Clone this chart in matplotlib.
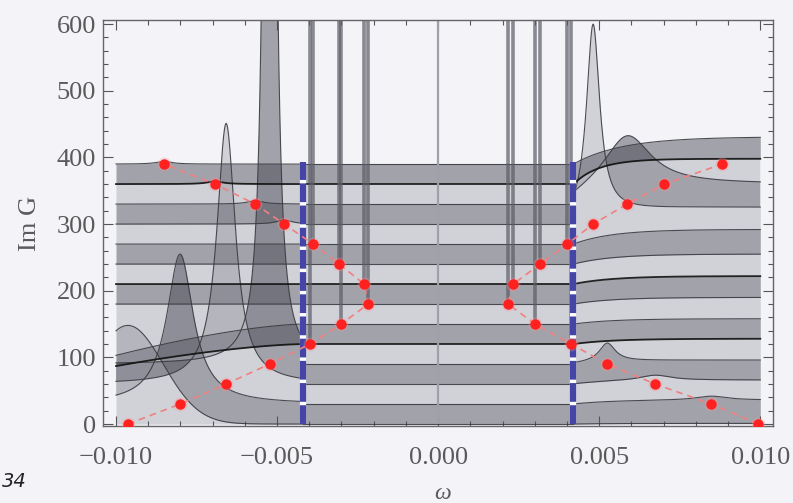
import numpy as np
import matplotlib
matplotlib.use("Agg")
import matplotlib.pyplot as plt
from matplotlib.ticker import MultipleLocator, FuncFormatter

# Vertical offsets of the 14 stacked Im G curves
offsets = [0, 30, 60, 90, 120, 150, 180, 210, 240, 270, 300, 330, 360, 390]

# Resonance frequencies (red markers) on the negative and positive branch
omega_neg = [-0.00963, -0.00801, -0.00658, -0.00523, -0.00398, -0.00301, -0.00217,
             -0.00230, -0.00307, -0.00388, -0.00478, -0.00568, -0.00693, -0.00851]
omega_pos = [0.00994, 0.00848, 0.00674, 0.00525, 0.00413, 0.00301, 0.00217,
             0.00233, 0.00317, 0.00401, 0.00481, 0.00587, 0.00702, 0.00882]

# Gap edges (blue dashed lines) and their height
gap_edge = 0.0042
gap_top = 393

# Peak heights / half widths outside the gap, negative side
neg_height = [148, 225, 391, 5000, 0, 0, 0, 0, 0, 0, 6, 5, 4, 4]
neg_width = [0.0011, 0.0005, 0.00035, 0.00009, 1, 1, 1, 1, 1, 1,
             0.0003, 0.0003, 0.0003, 0.0003]
# Downward drift of the curves towards the left frame edge
neg_dip = [0, 0, 0, 0, 33, 47, 0, 0, 0, 0, 0, 0, 0, 0]

# Peak heights / half widths outside the gap, positive side
pos_height = [0, 6, 8, 28, 0, 0, 0, 0, 0, 0, 290, 80, 0, 0]
pos_width = [1, 0.0006, 0.0006, 0.0003, 1, 1, 1, 1, 1, 1, 0.00025, 0.0009, 1, 1]
# Smooth upward drift towards the right frame edge
pos_shift = [1, 6, 6, 6, 8, 8, 10, 12, 15, 22, 25, 30, 38, 41]
pos_rise = [0.0012] * 12 + [0.0008, 0.0015]

x_ticks = [-0.010, -0.005, 0.000, 0.005, 0.010]
y_ticks = [0, 100, 200, 300, 400, 500, 600]

n = len(offsets)


def lorentz(w, c, h, g):
    return h / (1.0 + ((w - c) / g) ** 2)


def curves_neg(w):
    out = []
    frac = np.clip((-w - gap_edge) / (0.010 - gap_edge), 0, None)
    for k in range(n):
        if k == 0:
            peak = neg_height[k] * np.exp(-0.5 * ((w - omega_neg[k]) / neg_width[k]) ** 2)
        else:
            peak = lorentz(w, omega_neg[k], neg_height[k], neg_width[k])
        out.append(offsets[k] + peak - neg_dip[k] * frac ** 1.5)
    return out


def curves_pos(w):
    out = []
    for k in range(n):
        rise = pos_shift[k] * (1 - np.exp(-(w - gap_edge) / pos_rise[k]))
        peak = lorentz(w, omega_pos[k], pos_height[k], pos_width[k])
        out.append(offsets[k] + rise + peak)
    return out


def curves_mid(w):
    return [np.full_like(w, offsets[k], dtype=float) for k in range(n)]


bg = "#f3f3f8"
fig = plt.figure(figsize=(7.93, 5.03), dpi=100, facecolor=bg)
ax = fig.add_axes([0.130, 0.153, 0.845, 0.807], facecolor=bg)

ink = (0.22, 0.22, 0.28)
dark_a, light_a = 0.43, 0.18

segments = [
    (np.linspace(-0.0100, -gap_edge, 3000), curves_neg),
    (np.linspace(-gap_edge, gap_edge, 50), curves_mid),
    (np.linspace(gap_edge, 0.0100, 3000), curves_pos),
]

for w, fn in segments:
    cs = fn(w)
    # light filling from the axis up to the lowest curve
    ax.fill_between(w, 0, cs[0], color=ink, alpha=light_a, lw=0, zorder=1)
    for k in range(n - 1):
        a = dark_a if k % 2 == 0 else light_a
        ax.fill_between(w, cs[k], cs[k + 1], where=cs[k + 1] >= cs[k], interpolate=True,
                        color=ink, alpha=a, lw=0, zorder=1)
    for k in range(n):
        strong = k in (4, 7, 12)
        ax.plot(w, cs[k], color="#111111" if strong else "#3a3a40",
                lw=1.3 if strong else 0.8, alpha=0.9, zorder=2)

# Narrow in-gap resonances drawn as vertical spikes
ax.vlines(omega_neg[4:10], offsets[4:10], 620, color="#5c5c66", lw=2.6, alpha=0.7, zorder=2.5)
ax.vlines(omega_pos[4:10], offsets[4:10], 620, color="#5c5c66", lw=2.6, alpha=0.7, zorder=2.5)
ax.vlines([0.0], 0, 620, color="#a0a0a8", lw=1.6, zorder=2.5)

# Gap edges
for xe in (-gap_edge, gap_edge):
    ax.plot([xe, xe], [0, gap_top], color="white", lw=4.5, zorder=3, solid_capstyle="butt")
    ax.plot([xe, xe], [0, gap_top], color="#4545a8", lw=4.5, zorder=3.1,
            linestyle=(0, (3.0, 0.55)), solid_capstyle="butt", dash_capstyle="butt")

# Resonance positions joined by dashed lines
for om in (omega_neg, omega_pos):
    ax.plot(om, offsets, color="#f08080", lw=1.2, linestyle=(0, (4, 3)), zorder=4)
    ax.plot(om, offsets, "o", color="#ff9090", ms=10, alpha=0.3, zorder=4.1, mec="none")
    ax.plot(om, offsets, "o", color="#ff2020", ms=7.5, zorder=4.2, mec="none")

ax.set_xlim(-0.0104, 0.0104)
ax.set_ylim(-3, 606)

ax.set_xticks(x_ticks)
ax.set_yticks(y_ticks)
ax.xaxis.set_minor_locator(MultipleLocator(0.001))
ax.yaxis.set_minor_locator(MultipleLocator(20))
ax.xaxis.set_major_formatter(FuncFormatter(lambda v, p: f"{v:.3f}".replace("-", "\u2212")))
ax.yaxis.set_major_formatter(FuncFormatter(lambda v, p: f"{v:.0f}"))

ax.tick_params(which="both", direction="in", top=True, right=True, color="#555555", width=0.8)
ax.tick_params(which="major", length=7)
ax.tick_params(which="minor", length=3.5)
ax.tick_params(axis="both", labelsize=19, labelcolor="#5a5a5a")
ax.tick_params(axis="x", pad=15)
ax.tick_params(axis="y", pad=5)
for lab in ax.get_xticklabels() + ax.get_yticklabels():
    lab.set_family("Liberation Serif")
for s in ax.spines.values():
    s.set_color("#666666")
    s.set_linewidth(1.0)

ax.set_ylabel("Im G", family="Liberation Serif", fontsize=19, color="#5a5a5a", labelpad=11)
fig.text(0.558, 0.018, "\u03c9", family="Liberation Serif", style="italic",
         fontsize=17, color="#5a5a5a", ha="center", va="center")
fig.text(0.002, 0.042, "34", family="DejaVu Sans", style="italic", fontsize=14,
         color="#222222", ha="left", va="center")

fig.savefig("out.png", dpi=100, facecolor=bg)
